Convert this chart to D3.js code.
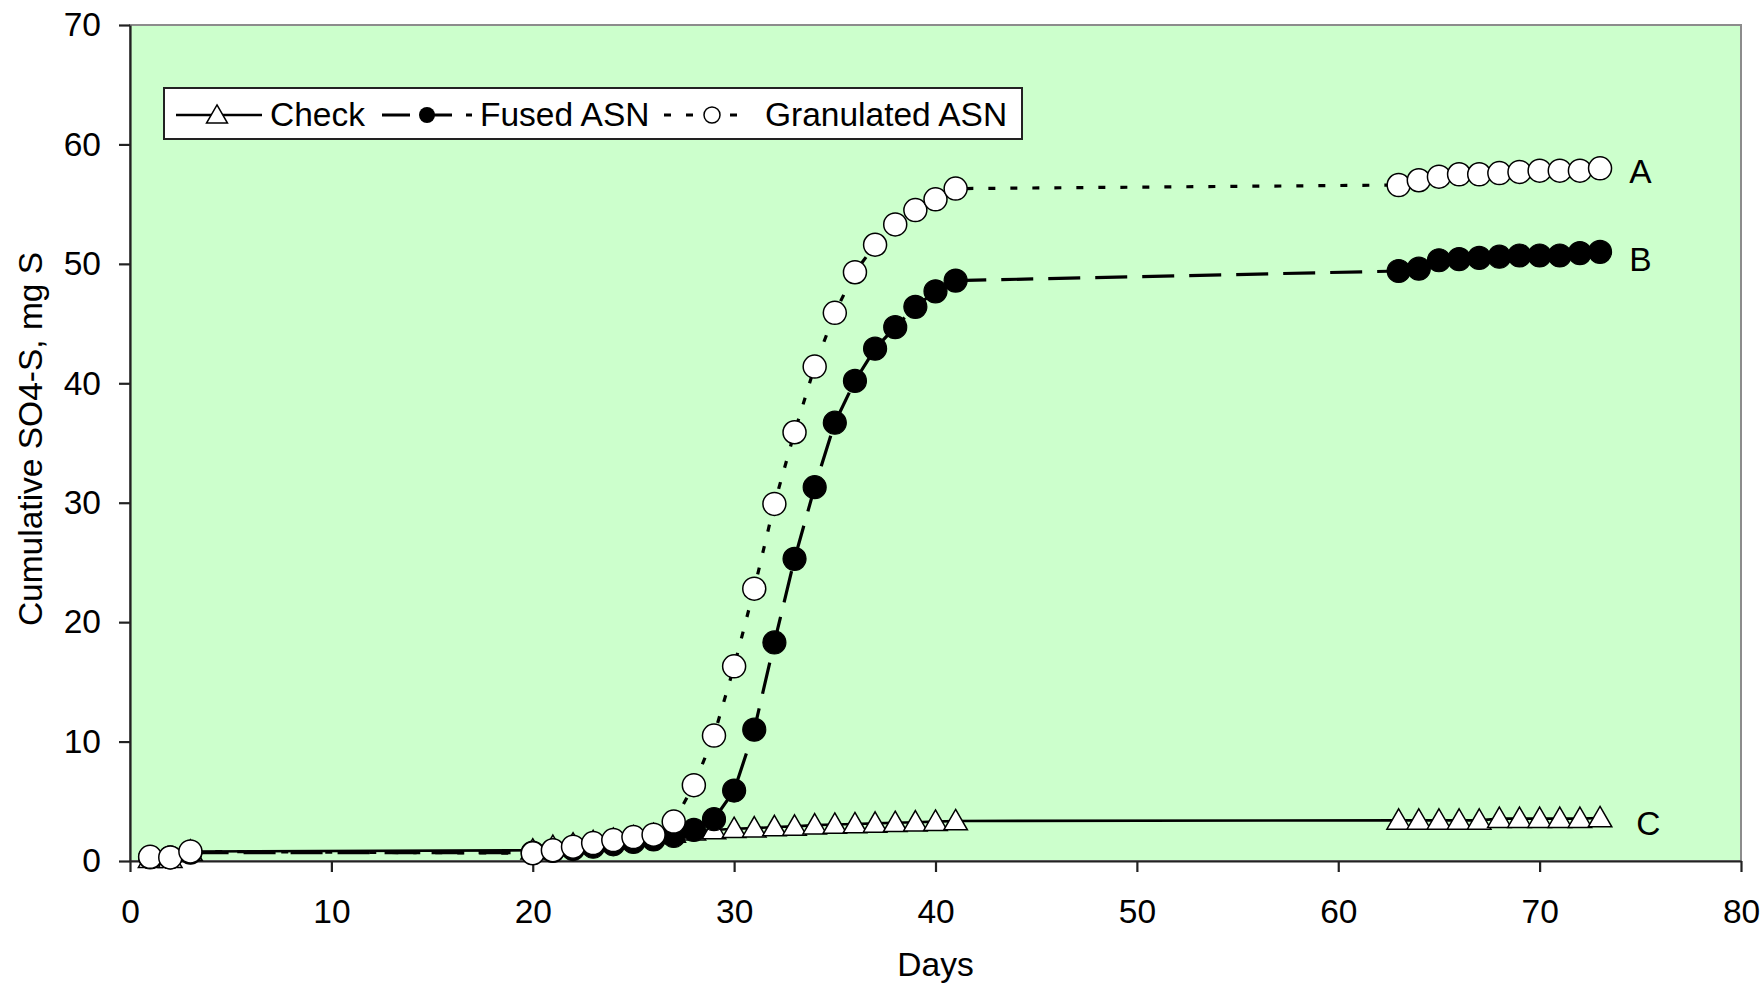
<!DOCTYPE html>
<html><head><meta charset="utf-8">
<script src="https://cdn.jsdelivr.net/npm/d3@7/dist/d3.min.js"></script>
<style>
body{margin:0;background:#fff}
svg{display:block}
text{font-family:"Liberation Sans",Arial,sans-serif;fill:#000}
</style>
</head><body>
<svg id="chart" width="1763" height="986"></svg>
<script>
// ---- data ----
const days = [1,2,3,20,21,22,23,24,25,26,27,28,29,30,31,32,33,34,35,36,37,38,39,40,41,63,64,65,66,67,68,69,70,71,72,73];
const check = [0.2,0.2,0.8,0.9,1.2,1.4,1.6,1.8,2.0,2.2,2.3,2.5,2.6,2.7,2.75,2.85,2.9,3.0,3.05,3.1,3.15,3.2,3.25,3.3,3.35,3.4,3.4,3.4,3.4,3.4,3.55,3.55,3.55,3.55,3.55,3.6];
const fused = [0.3,0.3,0.7,0.7,0.85,1.0,1.2,1.4,1.6,1.8,2.1,2.6,3.5,5.9,11.0,18.3,25.3,31.3,36.7,40.2,42.9,44.7,46.4,47.7,48.6,49.4,49.6,50.3,50.4,50.5,50.6,50.7,50.7,50.7,50.9,51.0];
const granulated = [0.35,0.3,0.8,0.65,0.9,1.2,1.5,1.75,2.0,2.2,3.3,6.35,10.5,16.3,22.8,29.9,35.9,41.4,45.9,49.3,51.6,53.3,54.5,55.4,56.3,56.6,57.0,57.3,57.5,57.5,57.6,57.7,57.8,57.8,57.8,58.0];
const seriesNames = ["Check","Fused ASN","Granulated ASN"];
const xTicks = [0,10,20,30,40,50,60,70,80];
const yTicks = [0,10,20,30,40,50,60,70];
const curveLabels = ["A","B","C"];
const curveLabelDay = [75.0,75.0,75.4];
const curveLabelVal = [57.8,50.4,3.2];
const xTitle = "Days";
const yTitle = "Cumulative SO4-S, mg S";

// ---- layout ----
const L = 130, R = 1741, T = 25, B = 861;
const FS = 33.5;
const svg = d3.select("#chart");
const x = d3.scaleLinear().domain([0,80]).range([L,R]);
const y = d3.scaleLinear().domain([0,70]).range([B,T]);

// plot area
svg.append("rect").attr("x",L).attr("y",T).attr("width",R-L).attr("height",B-T)
  .attr("fill","#CCFFCC").attr("stroke","#8c8c8c").attr("stroke-width",2);

// axes
const yAxis = svg.append("g").attr("transform",`translate(${L},0)`)
  .call(d3.axisLeft(y).tickValues(yTicks).tickSizeInner(11).tickSizeOuter(0).tickPadding(18).tickFormat(d3.format("d")));
const xAxis = svg.append("g").attr("transform",`translate(0,${B})`)
  .call(d3.axisBottom(x).tickValues(xTicks).tickSizeInner(11).tickSizeOuter(0).tickPadding(27).tickFormat(d3.format("d")));
[yAxis,xAxis].forEach(g=>{
  g.selectAll("path.domain").attr("stroke","#222").attr("stroke-width",2.2);
  g.selectAll(".tick line").attr("stroke","#222").attr("stroke-width",2.2);
  g.selectAll(".tick text").attr("font-size",FS).attr("font-family","Liberation Sans, Arial, sans-serif").attr("fill","#000");
});

// titles
svg.append("text").attr("x",(L+R)/2).attr("y",976).attr("text-anchor","middle").attr("font-size",FS).text(xTitle);
svg.append("text").attr("transform",`translate(42,${(T+B)/2 - 4}) rotate(-90)`).attr("text-anchor","middle").attr("font-size",FS).text(yTitle);

// series
const pts = arr => days.map((d,i)=>[d,arr[i]]);
const line = d3.line().x(d=>x(d[0])).y(d=>y(d[1]));
const tri = d3.symbol().type(d3.symbolTriangle).size(240);
const triLeg = d3.symbol().type(d3.symbolTriangle).size(190);

// Check
const gC = svg.append("g");
gC.append("path").attr("d",line(pts(check))).attr("fill","none").attr("stroke","#000").attr("stroke-width",2.6);
gC.selectAll("path.m").data(pts(check)).join("path").attr("class","m")
  .attr("d",tri).attr("transform",d=>`translate(${x(d[0])},${y(d[1])+2})`)
  .attr("fill","#fff").attr("stroke","#000").attr("stroke-width",1.5);

// Fused
const gF = svg.append("g");
gF.append("path").attr("d",line(pts(fused))).attr("fill","none").attr("stroke","#000").attr("stroke-width",3.2).attr("stroke-dasharray","32,15");
gF.selectAll("circle").data(pts(fused)).join("circle")
  .attr("cx",d=>x(d[0])).attr("cy",d=>y(d[1])).attr("r",11.5)
  .attr("fill","#000").attr("stroke","#000").attr("stroke-width",1.2);

// Granulated
const gG = svg.append("g");
gG.append("path").attr("d",line(pts(granulated))).attr("fill","none").attr("stroke","#000").attr("stroke-width",3.2).attr("stroke-dasharray","7,15");
gG.selectAll("circle").data(pts(granulated)).join("circle")
  .attr("cx",d=>x(d[0])).attr("cy",d=>y(d[1])).attr("r",11.5)
  .attr("fill","#fff").attr("stroke","#000").attr("stroke-width",1.5);

// curve labels
svg.selectAll("text.cl").data(curveLabels).join("text").attr("class","cl")
  .attr("x",(d,i)=>x(curveLabelDay[i])).attr("y",(d,i)=>y(curveLabelVal[i])+12)
  .attr("text-anchor","middle").attr("font-size",FS).text(d=>d);

// legend
const lg = svg.append("g");
lg.append("rect").attr("x",164).attr("y",88).attr("width",858).attr("height",51)
  .attr("fill","#fff").attr("stroke","#222").attr("stroke-width",2);
const ly = 115, lbase = 126;
// check sample
lg.append("line").attr("x1",176).attr("x2",262).attr("y1",ly).attr("y2",ly).attr("stroke","#000").attr("stroke-width",2.6);
lg.append("path").attr("d",triLeg).attr("transform",`translate(217,${ly+2})`).attr("fill","#fff").attr("stroke","#000").attr("stroke-width",1.5);
lg.append("text").attr("x",270).attr("y",lbase).attr("font-size",FS).text(seriesNames[0]);
// fused sample
lg.append("line").attr("x1",382).attr("x2",472).attr("y1",ly).attr("y2",ly).attr("stroke","#000").attr("stroke-width",3.2).attr("stroke-dasharray","28,14");
lg.append("circle").attr("cx",427).attr("cy",ly).attr("r",8).attr("fill","#000");
lg.append("text").attr("x",480).attr("y",lbase).attr("font-size",FS).text(seriesNames[1]);
// granulated sample
lg.append("line").attr("x1",664).attr("x2",752).attr("y1",ly).attr("y2",ly).attr("stroke","#000").attr("stroke-width",3.2).attr("stroke-dasharray","7,15");
lg.append("circle").attr("cx",712).attr("cy",ly).attr("r",8).attr("fill","#fff").attr("stroke","#000").attr("stroke-width",1.5);
lg.append("text").attr("x",765).attr("y",lbase).attr("font-size",FS).text(seriesNames[2]);
</script>
</body></html>
